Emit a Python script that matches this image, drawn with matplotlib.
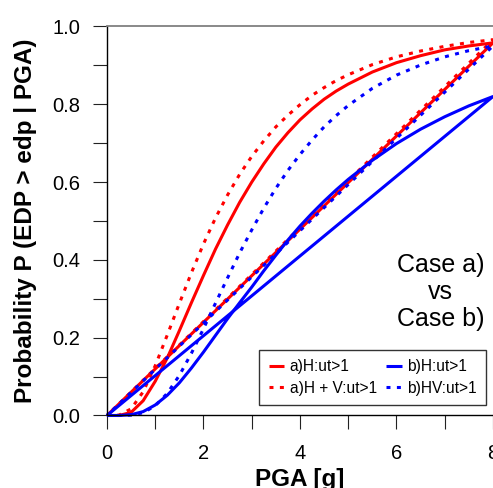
import numpy as np
import matplotlib.pyplot as plt
from matplotlib.ticker import MultipleLocator

plt.rcParams['font.family'] = ['Liberation Sans', 'DejaVu Sans']

# ---------------------------------------------------------------
# DATA
# ---------------------------------------------------------------
pga = [0.0, 0.25, 0.5, 0.75, 1.0, 1.25, 1.5, 1.75, 2.0, 2.25, 2.5, 2.75,
       3.0, 3.25, 3.5, 3.75, 4.0, 4.25, 4.5, 4.75, 5.0, 5.5, 6.0, 6.5,
       7.0, 7.5, 8.0]

p_a_h = [0.0, 0.0, 0.008, 0.038, 0.088, 0.148, 0.218, 0.290, 0.360, 0.428,
         0.490, 0.548, 0.600, 0.647, 0.690, 0.727, 0.760, 0.788, 0.813,
         0.834, 0.852, 0.883, 0.907, 0.925, 0.940, 0.950, 0.958]
p_a_hv = [0.0, 0.001, 0.017, 0.061, 0.128, 0.207, 0.288, 0.367, 0.441, 0.508,
          0.567, 0.620, 0.666, 0.706, 0.742, 0.772, 0.799, 0.823, 0.843,
          0.861, 0.876, 0.902, 0.922, 0.937, 0.949, 0.959, 0.966]
p_b_h = [0.0, 0.0, 0.002, 0.010, 0.027, 0.052, 0.084, 0.122, 0.163, 0.206,
         0.249, 0.290, 0.330, 0.372, 0.412, 0.451, 0.487, 0.520, 0.551,
         0.580, 0.607, 0.656, 0.699, 0.736, 0.768, 0.796, 0.820]
p_b_hv = [0.0, 0.0, 0.001, 0.007, 0.025, 0.057, 0.103, 0.160, 0.223, 0.289,
          0.354, 0.418, 0.477, 0.533, 0.584, 0.630, 0.671, 0.708, 0.742,
          0.771, 0.797, 0.841, 0.875, 0.901, 0.922, 0.938, 0.950]

labels = ['a)H:ut>1', 'a)H + V:ut>1', 'b)H:ut>1', 'b)HV:ut>1']

# each curve in the source figure closes back to the origin
def closed(y):
    return np.r_[pga, 0.0], np.r_[y, 0.0]

# ---------------------------------------------------------------
# PLOT
# ---------------------------------------------------------------
fig = plt.figure(figsize=(4.93, 4.88), dpi=100)
ax = fig.add_axes([0.217, 0.1486, 0.783, 0.7971])

dots = (0, (1.3, 2.1))
lw = 2.2
for y, col, ls, lab in [(p_a_h, '#ff0000', '-', labels[0]),
                        (p_a_hv, '#ff0000', dots, labels[1]),
                        (p_b_h, '#0000ff', '-', labels[2]),
                        (p_b_hv, '#0000ff', dots, labels[3])]:
    xx, yy = closed(y)
    ax.plot(xx, yy, color=col, linestyle=ls, linewidth=lw, label=lab,
            solid_capstyle='butt', solid_joinstyle='round', clip_on=False)

ax.set_xlim(0, 8)
ax.set_ylim(0, 1)
ax.xaxis.set_major_locator(MultipleLocator(2))
ax.xaxis.set_minor_locator(MultipleLocator(1))
ax.yaxis.set_major_locator(MultipleLocator(0.2))
ax.yaxis.set_minor_locator(MultipleLocator(0.1))
ax.yaxis.set_major_formatter(plt.FormatStrFormatter('%.1f'))

ax.tick_params(which='both', direction='out', length=10, width=0.8,
               top=False, right=False, color='#222222')
ax.tick_params(which='major', labelsize=14.5, pad=9)
ax.tick_params(axis='x', which='major', pad=10.5)

ax.spines['right'].set_visible(False)
ax.spines['top'].set_color('#808080')
ax.spines['top'].set_linewidth(1.3)
ax.spines['left'].set_linewidth(1.0)
ax.spines['bottom'].set_linewidth(1.0)

ax.set_xlabel('PGA [g]', fontsize=17.5, fontweight='bold', labelpad=3.5)
ax.set_ylabel('Probability P (EDP > edp | PGA)', fontsize=17.5,
              fontweight='bold', labelpad=11)

ax.text(6.92, 0.318, 'Case a)\nvs\nCase b)', fontsize=18, ha='center',
        va='center', linespacing=1.17)

leg = ax.legend(loc='lower right', bbox_to_anchor=(0.982, 0.027), ncol=2,
                fontsize=11.2, frameon=True, fancybox=False,
                edgecolor='black', handlelength=1.0, handletextpad=0.35,
                columnspacing=0.6, labelspacing=0.42, borderpad=0.6,
                borderaxespad=0)
leg.get_frame().set_linewidth(1.0)

plt.savefig('out.png', dpi=100)
